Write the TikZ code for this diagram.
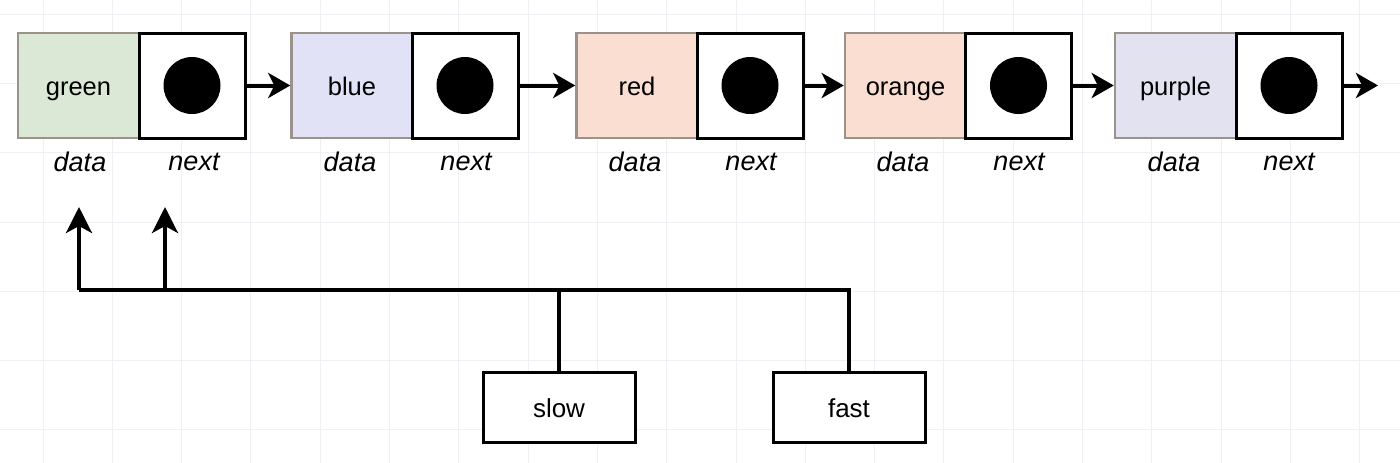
\documentclass[tikz,border=0pt]{standalone}
\usepackage{fontspec}
\setmainfont{Liberation Sans}
\usetikzlibrary{arrows.meta}
\definecolor{gfill}{RGB}{219,232,214}
\definecolor{bfill}{RGB}{225,226,245}
\definecolor{rfill}{RGB}{250,222,210}
\definecolor{pfill}{RGB}{226,226,240}
\definecolor{dborder}{RGB}{155,146,140}
\definecolor{gridc}{RGB}{240,240,244}
\tikzset{
  databox/.style={draw=dborder, line width=2.5pt, minimum width=121pt, minimum height=105pt, inner sep=0pt, text height=19pt, text depth=0pt, font=\fontsize{25.5}{25.5}\selectfont},
  nextbox/.style={draw=black, fill=white, line width=3pt, minimum width=106pt, minimum height=105pt, inner sep=0pt},
  dot/.style={circle, fill=black, minimum size=57pt, inner sep=0pt},
  lbl/.style={font=\fontsize{27}{27}\selectfont\itshape, inner sep=0pt},
  ptrbox/.style={draw=black, fill=white, line width=3pt, minimum width=152pt, minimum height=70pt, inner sep=0pt, text height=20pt, text depth=0pt, font=\fontsize{26}{26}\selectfont},
  link/.style={line width=4pt, -{Stealth[length=22pt, width=25pt, inset=6pt]}},
  wire/.style={line width=4pt},
  up/.style={line width=4pt, -{Stealth[length=26pt, width=26pt, inset=7pt]}}
}
\begin{document}
\begin{tikzpicture}[x=1pt,y=-1pt]
\useasboundingbox (0,0) rectangle (1400,463);
\fill[white] (0,0) rectangle (1400,463);
% background grid
\foreach \gx in {0,...,20} {\draw[gridc, line width=1pt] ({43+69.3*(\gx-1)},0) -- ({43+69.3*(\gx-1)},463);}
\foreach \gy in {0,...,7} {\draw[gridc, line width=1pt] (0,{222+69.3*(\gy-4)}) -- (1400,{222+69.3*(\gy-4)});}
% nodes
\node[databox, fill=gfill] (d1) at (78.5,85.5) {green};
\node[nextbox] (n1) at (192,85.5) {};
\node[dot] (c1) at (n1) {};
\node[databox, fill=bfill] (d2) at (352,85.5) {blue};
\node[nextbox] (n2) at (465,85.5) {};
\node[dot] (c2) at (n2) {};
\node[databox, fill=rfill] (d3) at (637,85.5) {red};
\node[nextbox] (n3) at (750,85.5) {};
\node[dot] (c3) at (n3) {};
\node[databox, fill=rfill] (d4) at (905.5,85.5) {orange};
\node[nextbox] (n4) at (1018.5,85.5) {};
\node[dot] (c4) at (n4) {};
\node[databox, fill=pfill] (d5) at (1175.5,85.5) {purple};
\node[nextbox] (n5) at (1289,85.5) {};
\node[dot] (c5) at (n5) {};
% labels
\foreach \i/\dx/\nx in {1/80/194, 2/350/466, 3/635/751, 4/903/1019, 5/1174/1289} {
  \node[lbl] (dl\i) at (\dx,162) {data};
  \node[lbl] (nl\i) at (\nx,162) {next};
}
% links
\draw[link] (n1.east) -- (d2.west);
\draw[link] (n2.east) -- (d3.west);
\draw[link] (n3.east) -- (d4.west);
\draw[link] (n4.east) -- (d5.west);
\coordinate (endp) at (1378,85.5);
\draw[link] (n5.east) -- (endp);
% pointers
\node[ptrbox] (slow) at (559,407) {slow};
\node[ptrbox] (fast) at (849,407) {fast};
\coordinate (jl) at (79,290);
\coordinate (jn) at (165,290);
\coordinate (tdata) at (79,207);
\coordinate (tnext) at (165,207);
\draw[wire, line join=miter] (slow.north) -- (559,290) -- (jl);
\draw[wire, line join=miter] (fast.north) -- (849,290) -- (559,290);
\draw[up] (jl) -- (tdata);
\draw[up] (jn) -- (tnext);
\end{tikzpicture}
\end{document}
